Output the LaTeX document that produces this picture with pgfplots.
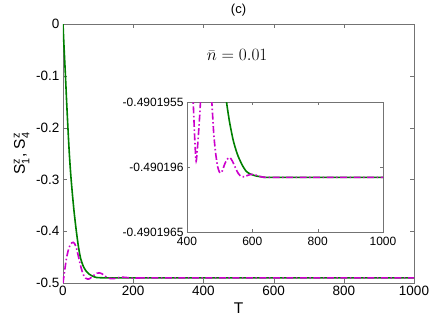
\documentclass[border=0pt]{standalone}
\usepackage{fontspec}
\setmainfont{Liberation Sans}
\usepackage{amsmath}
\usepackage{pgfplots}
\pgfplotsset{compat=1.18}
\definecolor{mgreen}{rgb}{0,0.5,0}
\definecolor{mmag}{rgb}{0.8,0,0.8}
\definecolor{axgray}{gray}{0.45}

\begin{document}
\begin{tikzpicture}
\path[use as bounding box] (-63pt,-44pt) rectangle (373pt,283pt);
\begin{axis}[
  at={(0,0)}, anchor=south west, scale only axis,
  width=351pt, height=259pt,
  xmin=0, xmax=1000, ymin=-0.5, ymax=0,
  xtick={0,200,400,600,800,1000},
  xticklabels={0,200,400,600,800,1000},
  ytick={-0.5,-0.4,-0.3,-0.2,-0.1,0},
  yticklabels={-0.5,-0.4,-0.3,-0.2,-0.1,0},
  /pgf/number format/assume math mode=true,
  tick align=inside, major tick length=4pt,
  axis line style={axgray}, tick style={axgray},
  ticklabel style={font=\fontsize{13.5}{15}\selectfont, text=black},
  title={(c)}, title style={font=\fontsize{13}{15}\selectfont, yshift=-2pt},
  xlabel={T}, ylabel={S$^{\text{z}}_{\text{1}}$, S$^{\text{z}}_{\text{4}}$},
  label style={font=\fontsize{15.5}{18}\selectfont},
  ]
  \addplot[mgreen, line width=1.6pt, smooth, tension=0.4] coordinates {
    (0,0) (3,-0.045) (7,-0.1) (10,-0.145) (14,-0.2) (18,-0.25) (22,-0.29)
    (27,-0.33) (32,-0.365) (38,-0.4) (44,-0.43) (50,-0.452) (58,-0.468)
    (66,-0.477) (75,-0.483) (85,-0.487) (95,-0.4893) (110,-0.4899)
    (130,-0.4902) (200,-0.4901) (260,-0.4902) (1000,-0.4902)};
  \addplot[mmag, line width=1.6pt, smooth, tension=0.4,
    dash pattern=on 7pt off 2.5pt on 1.5pt off 2.5pt] coordinates {
    (0,-0.5) (5,-0.475) (10,-0.452) (15,-0.437) (20,-0.427) (25,-0.4225)
    (29,-0.4215) (33,-0.424) (38,-0.432) (43,-0.446) (48,-0.461) (53,-0.474)
    (58,-0.484) (64,-0.4905) (70,-0.4925) (75,-0.492) (82,-0.4885) (90,-0.484)
    (97,-0.481) (104,-0.4805) (111,-0.482) (118,-0.486) (126,-0.4895)
    (134,-0.4913) (142,-0.4915) (150,-0.491) (160,-0.4893) (170,-0.4888)
    (180,-0.4893) (195,-0.4905) (210,-0.4904) (230,-0.4901) (260,-0.4902)
    (1000,-0.4902)};
  \node at (axis cs:496,-0.06) {\fontsize{17}{20}\selectfont$\bar{n}=0.01$};
\end{axis}

% inset: y stored as (S + 0.490196) * 1e7
\begin{axis}[
  at={(124pt,51pt)}, anchor=south west, scale only axis,
  width=196pt, height=130pt,
  axis background/.style={fill=white},
  xmin=400, xmax=1000, ymin=-5, ymax=5,
  xtick={400,600,800,1000},
  xticklabels={400,600,800,1000},
  ytick={-5,0,5},
  yticklabels={-0.4901965,-0.490196,-0.4901955},
  /pgf/number format/assume math mode=true,
  tick align=inside, major tick length=3pt,
  axis line style={axgray}, tick style={axgray},
  ticklabel style={font=\fontsize{12}{13}\selectfont, text=black},
  xticklabel style={yshift=-2pt},
  ]
  \addplot[mgreen, line width=1.6pt, smooth, tension=0.4] coordinates {
    (400,60) (470,20) (500,10) (512,7) (521,5) (530,3.5) (541,2.1) (550,1.3)
    (557,0.8) (570,0.1) (582,-0.35) (595,-0.55) (610,-0.68) (630,-0.76)
    (660,-0.8) (1000,-0.8)};
  \addplot[mmag, line width=1.6pt, smooth, tension=0.4,
    dash pattern=on 7pt off 2.5pt on 1.5pt off 2.5pt] coordinates {
    (405,14) (412,9) (419,5) (424,2) (428,0.45) (433,1.8) (439,4) (445,6.5)
    (459,9) (470,7) (476,5) (482,2.5) (488,1) (494,0) (501,-0.46) (508,-0.3)
    (515,0.2) (523,0.6) (531,0.73) (539,0.45) (548,-0.05) (557,-0.5)
    (567,-0.75) (576,-0.75) (585,-0.65) (594,-0.58) (603,-0.56) (612,-0.63)
    (622,-0.72) (640,-0.8) (700,-0.8) (1000,-0.8)};
\end{axis}
\end{tikzpicture}
\end{document}
